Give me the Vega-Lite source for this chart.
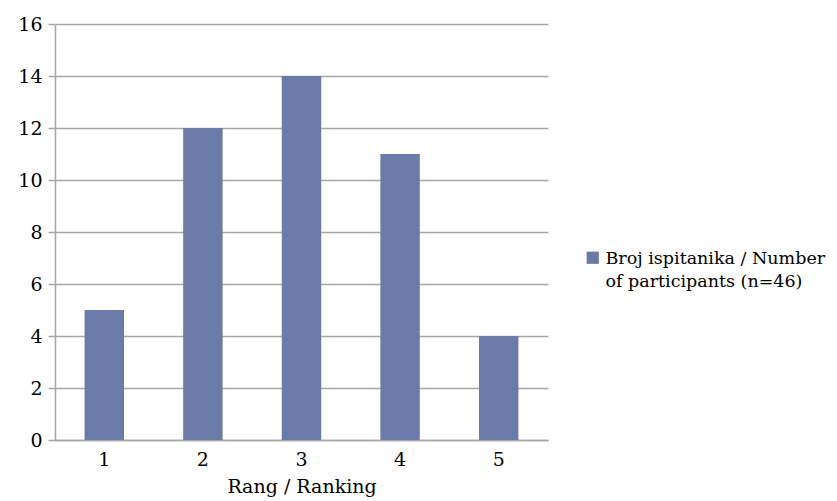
{
  "$schema": "https://vega.github.io/schema/vega-lite/v6.json",
  "autosize": {"type": "none"},
  "padding": {"left": 55, "top": 24, "right": 289, "bottom": 61},
  "width": 493,
  "height": 416,
  "background": "white",
  "data": {
    "values": [
      {"rang": "1", "n": 5, "series": "Broj ispitanika / Number of participants (n=46)"},
      {"rang": "2", "n": 12, "series": "Broj ispitanika / Number of participants (n=46)"},
      {"rang": "3", "n": 14, "series": "Broj ispitanika / Number of participants (n=46)"},
      {"rang": "4", "n": 11, "series": "Broj ispitanika / Number of participants (n=46)"},
      {"rang": "5", "n": 4, "series": "Broj ispitanika / Number of participants (n=46)"}
    ]
  },
  "mark": {"type": "bar"},
  "encoding": {
    "x": {
      "field": "rang", "type": "ordinal",
      "scale": {"paddingInner": 0.6, "paddingOuter": 0.3},
      "axis": {
        "title": "Rang / Ranking", "labelAngle": 0, "ticks": false,
        "labelPadding": 10, "titlePadding": 8,
        "domainColor": "#a6a6a6", "domainWidth": 1.5
      }
    },
    "y": {
      "field": "n", "type": "quantitative",
      "scale": {"domain": [0, 16], "nice": false},
      "axis": {
        "title": null, "values": [0, 2, 4, 6, 8, 10, 12, 14, 16],
        "tickSize": 7, "labelPadding": 6, "tickColor": "#a6a6a6", "tickWidth": 1.5,
        "gridColor": "#a6a6a6", "gridWidth": 1.5,
        "domainColor": "#a6a6a6", "domainWidth": 1.5
      }
    },
    "color": {
      "field": "series", "type": "nominal",
      "scale": {"range": ["#6A7BA9"]},
      "legend": {
        "title": null, "orient": "none", "legendX": 529, "legendY": 225,
        "symbolType": "square", "symbolSize": 150, "symbolStrokeWidth": 0,
        "symbolOpacity": 1, "padding": 0, "labelOffset": 4, "labelLimit": 400,
        "labelExpr": "['Broj ispitanika / Number', 'of participants (n=46)']",
        "encode": {"labels": {"update": {"lineHeight": {"value": 23}, "dy": {"value": 1}}}}
      }
    }
  },
  "config": {
    "font": "DejaVu Serif",
    "view": {"stroke": null},
    "axis": {
      "labelFont": "DejaVu Serif", "labelFontSize": 19, "labelColor": "#000000",
      "titleFont": "DejaVu Serif", "titleFontSize": 19, "titleFontWeight": "normal", "titleColor": "#000000"
    },
    "legend": {"labelFont": "DejaVu Serif", "labelFontSize": 17.5, "labelColor": "#000000"}
  }
}
